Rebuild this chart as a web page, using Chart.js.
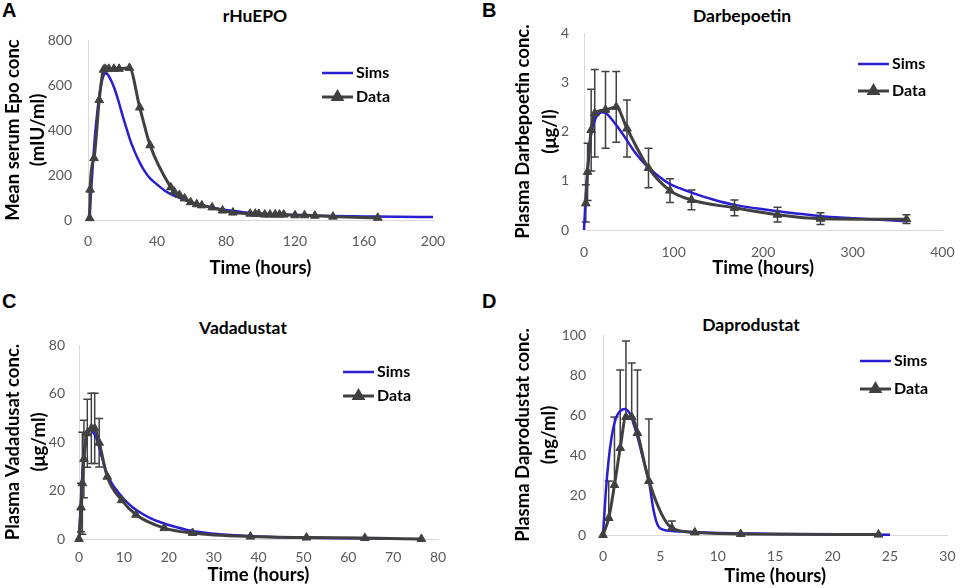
<!DOCTYPE html>
<html>
<head>
<meta charset="utf-8">
<script src="https://cdn.jsdelivr.net/npm/chart.js@4.4.0/dist/chart.umd.min.js"></script>
<style>
  body { margin: 0; background: #fff; width: 969px; height: 588px; position: relative; overflow: hidden; font-family: Lato, sans-serif; }
  canvas { position: absolute; }
  .letter { position: absolute; font-family: "Liberation Sans", Arial, sans-serif; font-weight: bold; font-size: 20px; line-height: 1; }
  .title { position: absolute; font-weight: bold; font-size: 17.5px; transform: translate(-50%, -50%); white-space: nowrap; }
</style>
</head>
<body>
<div class="letter" style="left:2px;top:0px">A</div>
<div class="letter" style="left:482px;top:0px">B</div>
<div class="letter" style="left:2px;top:291px">C</div>
<div class="letter" style="left:482px;top:291px">D</div>

<div class="title" style="left:255px;top:15px">rHuEPO</div>
<div class="title" style="left:742px;top:15px">Darbepoetin</div>
<div class="title" style="left:243px;top:327px">Vadadustat</div>
<div class="title" style="left:751px;top:324px">Daprodustat</div>

<canvas id="chartA" width="480" height="290" style="left:0;top:0"></canvas>
<canvas id="chartB" width="489" height="290" style="left:480px;top:0"></canvas>
<canvas id="chartC" width="480" height="298" style="left:0;top:290px"></canvas>
<canvas id="chartD" width="489" height="298" style="left:480px;top:290px"></canvas>

<script>
// 凡例
const seriesNames = ['Sims', 'Data'];
const timeLabel = 'Time (hours)';

// A: rHuEPO
const epoTimeSim = [0, 1, 2, 3, 4, 5, 6, 7, 8, 9, 10, 11, 12, 14, 16, 18, 20, 22, 24, 27, 30, 33, 36, 40, 45, 50, 55, 60, 70, 80, 90, 100, 120, 140, 160, 180, 200];
const epoConcSim = [0, 40, 150, 270, 370, 450, 520, 575, 615, 642, 652, 650, 640, 610, 570, 520, 465, 415, 365, 305, 255, 215, 185, 158, 128, 108, 92, 79, 58, 44, 35, 29, 22, 18, 16, 14, 13];
const epoTimeObs = [1, 1.2, 3.5, 6.5, 9, 10, 12, 15, 18, 24, 30, 36, 48, 50, 53, 56, 59.5, 63, 66, 72, 78, 84, 94, 97, 99, 102.5, 105.5, 108.5, 111, 113.5, 120, 125.5, 131.5, 142, 168];
const epoConcObs = [8, 135, 275, 533, 668, 672, 672, 672, 672, 676, 500, 332, 145, 126, 111, 96, 79, 70, 65, 56, 42, 33, 28, 28, 27, 24, 24, 24, 24, 24, 21, 21, 19, 15, 10];
const epoXTicks = [0, 40, 80, 120, 160, 200];
const epoYTicks = [0, 200, 400, 600, 800];
const epoYLabel = ['Mean serum Epo conc', '(mIU/ml)'];

// B: Darbepoetin
const darbTimeSim = [0, 1, 2, 3, 4, 6, 8, 10, 13, 16, 20, 24, 30, 36, 42, 48, 56, 64, 72, 84, 96, 108, 120, 144, 168, 192, 216, 240, 264, 300, 330, 360];
const darbConcSim = [0, 0.35, 0.7, 1.0, 1.25, 1.65, 1.95, 2.12, 2.27, 2.35, 2.39, 2.38, 2.27, 2.13, 1.98, 1.82, 1.6, 1.42, 1.27, 1.08, 0.93, 0.84, 0.76, 0.62, 0.51, 0.44, 0.38, 0.33, 0.28, 0.24, 0.21, 0.18];
const darbTimeObs = [2, 4, 8, 12, 24, 36, 48, 72, 96, 120, 168, 216, 264, 360];
const darbConcObs = [0.54, 1.18, 2.03, 2.37, 2.44, 2.5, 2.06, 1.26, 0.8, 0.61, 0.45, 0.31, 0.23, 0.22];
const darbErr = [0.38, 0.58, 0.83, 0.89, 0.78, 0.72, 0.58, 0.4, 0.24, 0.2, 0.16, 0.15, 0.12, 0.09];
const darbXTicks = [0, 100, 200, 300, 400];
const darbYTicks = [0, 1, 2, 3, 4];
const darbYLabel = ['Plasma Darbepoetin conc.', '(μg/l)'];

// C: Vadadustat
const vadaTimeSim = [0, 0.25, 0.5, 0.75, 1, 1.5, 2, 2.5, 3, 3.5, 4, 5, 6, 7, 8, 10, 12, 14, 16, 18, 20, 25, 30, 35, 40, 50, 60, 70];
const vadaConcSim = [0, 9, 19, 27, 33, 40.5, 44.2, 45, 44.5, 43, 41, 34.5, 28, 24, 21, 16.5, 13, 10.5, 8.5, 7, 5.8, 3.4, 2.2, 1.5, 1, 0.5, 0.3, 0.2];
const vadaTimeObs = [0, 0.45, 0.75, 1.1, 1.85, 2.75, 3.5, 4.5, 6.3, 9.5, 12.7, 19, 25.3, 38.2, 50.7, 63.7, 76.3];
const vadaConcObs = [0, 13, 23, 33, 43.6, 45.6, 45.6, 39.7, 25.7, 16, 10, 4.5, 2.5, 1, 0.6, 0.4, 0];
const vadaErr = [0, 10, 21, 16, 14, 14.5, 14.5, 10, 0, 0, 0, 0, 0, 0, 0, 0, 0];
const vadaXTicks = [0, 10, 20, 30, 40, 50, 60, 70, 80];
const vadaYTicks = [0, 20, 40, 60, 80];
const vadaYLabel = ['Plasma Vadadusat conc.', '(μg/ml)'];

// D: Daprodustat（プラス方向のみの誤差棒）
const daproTimeSim = [0, 0.25, 0.5, 0.75, 1, 1.25, 1.5, 1.9, 2.4, 2.75, 3.1, 3.5, 4, 4.4, 4.8, 5.3, 6, 7, 8, 10, 12, 15, 20, 25];
const daproConcSim = [0, 22, 38, 49, 56, 60, 62, 63, 60, 54, 47, 38, 27, 12.5, 4.5, 2.6, 2.0, 1.7, 1.4, 1, 0.8, 0.5, 0.3, 0.1];
const daproTimeObs = [0, 0.5, 1, 1.5, 2, 2.5, 3, 4, 6, 8, 12, 24];
const daproConcObs = [0, 8.5, 25, 43.5, 59, 59, 51, 27, 3.5, 1.3, 0.5, 0.2];
const daproErr = [0, 18.5, 34, 39, 38, 27, 31.5, 31, 3.5, 0, 0, 0];
const daproXTicks = [0, 5, 10, 15, 20, 25, 30];
const daproYTicks = [0, 20, 40, 60, 80, 100];
const daproYLabel = ['Plasma Daprodustat conc.', '(ng/ml)'];

const blue = '#2a1ed2';
const gray = '#404040';

function pts(xs, ys) {
    return xs.map((x, i) => ({ x: x, y: ys[i] }));
}

// 誤差棒を描く
const errorBarPlugin = {
    id: 'errorBars',
    beforeDatasetsDraw(chart) {
        const ctx = chart.ctx;
        const xs = chart.scales.x, ys = chart.scales.y;
        chart.data.datasets.forEach(ds => {
            if (!ds.errorBars) return;
            ctx.save();
            ctx.strokeStyle = gray;
            ctx.lineWidth = 1.5;
            ds.data.forEach((p, i) => {
                const e = ds.errorBars[i];
                if (!e) return;
                const px = xs.getPixelForValue(p.x);
                const top = ys.getPixelForValue(p.y + e);
                const bot = ys.getPixelForValue(ds.plusOnly ? p.y : Math.max(p.y - e, 0));
                ctx.beginPath();
                ctx.moveTo(px, top); ctx.lineTo(px, bot);
                ctx.moveTo(px - 4, top); ctx.lineTo(px + 4, top);
                if (!ds.plusOnly) { ctx.moveTo(px - 4, bot); ctx.lineTo(px + 4, bot); }
                ctx.stroke();
            });
            ctx.restore();
        });
    }
};

// 線＋マーカーの凡例
const lineLegend = {
    id: 'lineLegend',
    afterDraw(chart, args, opts) {
        const ctx = chart.ctx;
        ctx.save();
        ctx.font = 'bold 16px Lato';
        ctx.textBaseline = 'middle';
        chart.data.datasets.forEach((ds, i) => {
            const y = opts.y + i * opts.gap;
            ctx.strokeStyle = ds.borderColor;
            ctx.lineWidth = ds.borderWidth;
            ctx.beginPath();
            ctx.moveTo(opts.x, y);
            ctx.lineTo(opts.x + 31, y);
            ctx.stroke();
            if (ds.pointRadius > 0) {
                Chart.helpers.drawPoint(ctx, { pointStyle: 'triangle', radius: ds.pointRadius, borderWidth: 1 }, opts.x + 15.5, y);
                ctx.fillStyle = gray;
                ctx.fill();
            }
            ctx.fillStyle = '#000';
            ctx.fillText(ds.label, opts.x + 34, y);
        });
        ctx.restore();
    }
};

function makeChart(id, c) {
    const tickFont = { family: 'Lato', size: 14 };
    return new Chart(document.getElementById(id), {
        type: 'line',
        data: {
            datasets: [
                {
                    label: seriesNames[0],
                    data: pts(c.simT, c.simV),
                    borderColor: blue,
                    borderWidth: 2.5,
                    pointRadius: 0,
                    cubicInterpolationMode: 'monotone',
                    order: 2,
                    clip: false
                },
                {
                    label: seriesNames[1],
                    data: pts(c.obsT, c.obsV),
                    borderColor: gray,
                    backgroundColor: gray,
                    borderWidth: 3,
                    pointStyle: 'triangle',
                    pointRadius: 5,
                    pointBorderWidth: 1,
                    pointBackgroundColor: gray,
                    pointBorderColor: gray,
                    cubicInterpolationMode: 'monotone',
                    order: 1,
                    clip: false,
                    errorBars: c.err,
                    plusOnly: c.plusOnly
                }
            ]
        },
        options: {
            responsive: false,
            animation: false,
            events: [],
            layout: { padding: { left: 0, top: c.top, right: c.right, bottom: 0 } },
            plugins: {
                legend: { display: false },
                tooltip: { enabled: false },
                lineLegend: c.legend
            },
            scales: {
                x: {
                    type: 'linear',
                    min: c.xTicks[0],
                    max: c.xTicks[c.xTicks.length - 1],
                    afterBuildTicks: s => { s.ticks = c.xTicks.map(v => ({ value: v })); },
                    afterFit: s => { s.height = c.xH; },
                    grid: { display: false, drawTicks: false },
                    border: { color: '#d9d9d9', width: 1 },
                    ticks: { color: '#595959', font: tickFont, padding: c.xPad, maxRotation: 0, autoSkip: false, callback: v => String(v) },
                    title: { display: true, text: timeLabel, color: '#000', font: { family: 'Lato', size: 18.5, weight: 'bold', lineHeight: 1.2 }, padding: { top: 0, bottom: c.xTitlePad } }
                },
                y: {
                    min: c.yTicks[0],
                    max: c.yTicks[c.yTicks.length - 1],
                    afterBuildTicks: s => { s.ticks = c.yTicks.map(v => ({ value: v })); },
                    afterFit: s => { s.width = c.yW; },
                    grid: { display: false, drawTicks: false },
                    border: { color: '#d9d9d9', width: 1 },
                    ticks: { color: '#595959', font: tickFont, padding: c.yPad, callback: v => String(v) },
                    title: { display: true, text: c.yLabel, color: '#000', font: { family: 'Lato', size: 18.5, weight: 'bold', lineHeight: c.yLh + 'px' }, padding: { top: c.yTitlePad, bottom: 0 } }
                }
            }
        },
        plugins: [errorBarPlugin, lineLegend]
    });
}

makeChart('chartA', {
    simT: epoTimeSim, simV: epoConcSim, obsT: epoTimeObs, obsV: epoConcObs,
    xTicks: epoXTicks, yTicks: epoYTicks, yLabel: epoYLabel,
    top: 40, right: 47, xH: 70, yW: 88, xPad: 13.5, yPad: 16, xTitlePad: 11, yLh: 25, yTitlePad: 0.5,
    legend: { x: 322, y: 73, gap: 24 }
});

makeChart('chartB', {
    simT: darbTimeSim, simV: darbConcSim, obsT: darbTimeObs, obsV: darbConcObs, err: darbErr,
    xTicks: darbXTicks, yTicks: darbYTicks, yLabel: darbYLabel,
    top: 33, right: 22, xH: 60, yW: 104, xPad: 14.5, yPad: 15, xTitlePad: 11, yLh: 27, yTitlePad: 29.5,
    legend: { x: 378, y: 64, gap: 27 }
});

makeChart('chartC', {
    simT: vadaTimeSim, simV: vadaConcSim, obsT: vadaTimeObs, obsV: vadaConcObs, err: vadaErr,
    xTicks: vadaXTicks, yTicks: vadaYTicks, yLabel: vadaYLabel,
    top: 55, right: 42, xH: 49, yW: 79, xPad: 10.5, yPad: 14, xTitlePad: 2, yLh: 26, yTitlePad: 0.3,
    legend: { x: 343, y: 82, gap: 24 }
});

makeChart('chartD', {
    simT: daproTimeSim, simV: daproConcSim, obsT: daproTimeObs, obsV: daproConcObs, err: daproErr, plusOnly: true,
    xTicks: daproXTicks, yTicks: daproYTicks, yLabel: daproYLabel,
    top: 45, right: 11, xH: 53, yW: 123, xPad: 13.5, yPad: 17, xTitlePad: 1, yLh: 26, yTitlePad: 29.7,
    legend: { x: 380, y: 71, gap: 28 }
});
</script>
</body>
</html>
